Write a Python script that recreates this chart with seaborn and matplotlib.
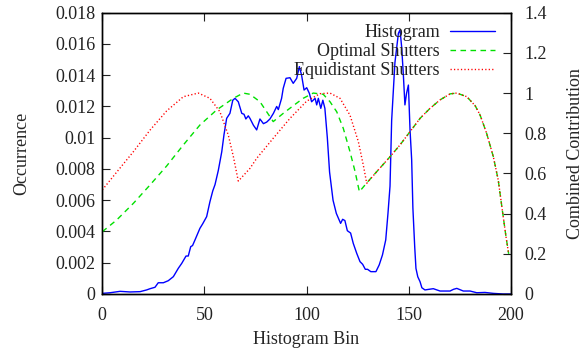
import matplotlib
matplotlib.use("Agg")
import matplotlib.pyplot as plt
import seaborn as sns

# ---- data ----
hist_bin = [0, 3.8, 8.7, 13.6, 18.5, 21.7, 23.4, 25.8, 27.4, 29.9, 32.3, 34.8, 37.2, 38.9,
            41.0, 42.1, 43.3, 44.2, 45.4, 47.8, 49.2, 51.1, 52.7, 54.1, 55.2, 56.8, 58.5,
            59.6, 60.9, 62.5, 63.9, 65.0, 66.6, 68.3, 69.4, 70.3, 71.5, 72.3, 74.0, 75.6,
            77.2, 78.9, 80.5, 82.1, 83.8, 85.4, 86.2, 87.8, 88.6, 90.0, 91.9, 93.5, 95.2,
            96.5, 97.6, 98.8, 100.1, 101.4, 102.5, 104.2, 105.0, 105.8, 107.0, 108.0, 109.0,
            110.2, 111.3, 113.0, 114.6, 116.7, 117.7, 118.8, 120.0, 121.6, 122.9, 124.6,
            126.2, 127.5, 128.8, 129.9, 131.5, 134.0, 135.6, 137.2, 138.8, 139.9, 140.9,
            141.7, 143.3, 145.0, 145.8, 146.6, 147.4, 148.2, 149.0, 149.9, 150.7, 151.5,
            152.1, 153.0, 153.6, 154.5, 155.6, 156.5, 158.0, 160.0, 162.1, 165.4, 170.3,
            172.0, 173.6, 176.8, 180.1, 183.4, 187.4, 191.5, 196.4, 200.0]
hist_occ = [0.00004, 0.00008, 0.00017, 0.00013, 0.00015, 0.00026, 0.00034, 0.00043, 0.00072,
            0.00072, 0.00085, 0.00111, 0.00164, 0.00196, 0.00243, 0.00243, 0.00303, 0.0031,
            0.00346, 0.0042, 0.0045, 0.00495, 0.0059, 0.0066, 0.0070, 0.0079, 0.0091, 0.0102,
            0.01124, 0.01156, 0.0124, 0.01252, 0.0123, 0.01156, 0.0115, 0.0112, 0.0114,
            0.01124, 0.0108, 0.0105, 0.0112, 0.0109, 0.0110, 0.0112, 0.01156, 0.0120, 0.0118,
            0.01252, 0.01316, 0.0138, 0.01384, 0.01348, 0.0138, 0.01455, 0.0140, 0.01305,
            0.0132, 0.01284, 0.0123, 0.01252, 0.0121, 0.01252, 0.01188, 0.0124, 0.01188,
            0.0100, 0.0078, 0.0060, 0.00516, 0.00452, 0.00478, 0.0047, 0.00405, 0.0039,
            0.00324, 0.0026, 0.00207, 0.0019, 0.00158, 0.00158, 0.00143, 0.00143, 0.00186,
            0.0025, 0.00346, 0.00516, 0.0069, 0.0111, 0.0148, 0.01668, 0.0169, 0.0158, 0.0141,
            0.0121, 0.01284, 0.01337, 0.0105, 0.0086, 0.0055, 0.0030, 0.00164, 0.0011, 0.00079,
            0.0004, 0.00026, 0.0003, 0.00034, 0.00019, 0.00019, 0.0003, 0.00036, 0.00019,
            0.00019, 0.00008, 0.0001, 0.00004, 0.0, 0.0]

opt_bin = [0, 7.0, 15.2, 23.4, 31.5, 39.7, 47.8, 56.0, 64.2, 69.0, 72.3, 77.2, 80.5, 83.7,
           88.6, 93.5, 98.4, 103.3, 108.2, 111.5, 114.8, 118.0, 121.3, 123.8, 125.9, 129.5,
           134.4, 140.9, 145.8, 150.7, 155.6, 160.5, 165.4, 170.3, 173.6, 178.5, 182.6,
           185.0, 188.2, 191.5, 193.9, 196.1, 197.7, 199.0]
opt_val = [0.31, 0.368, 0.451, 0.543, 0.637, 0.742, 0.841, 0.916, 0.974, 1.0, 0.994, 0.957,
           0.907, 0.858, 0.899, 0.937, 0.974, 1.0, 0.994, 0.957, 0.907, 0.825, 0.708, 0.609,
           0.509, 0.553, 0.609, 0.683, 0.742, 0.808, 0.874, 0.924, 0.966, 0.996, 1.0, 0.982,
           0.937, 0.891, 0.80, 0.683, 0.567, 0.402, 0.285, 0.20]

equi_bin = [0, 7.0, 15.2, 23.4, 31.5, 39.7, 47.0, 52.7, 57.6, 61.7, 64.2, 66.6, 72.3, 75.6,
            83.7, 91.9, 100.1, 106.6, 111.5, 116.4, 121.3, 125.4, 127.8, 129.5, 134.4, 140.9,
            145.8, 150.7, 155.6, 160.5, 165.4, 170.3, 173.6, 178.5, 182.6, 185.0, 188.2,
            191.5, 193.9, 196.1, 197.7, 199.0]
equi_val = [0.518, 0.606, 0.708, 0.816, 0.911, 0.982, 1.0, 0.974, 0.907, 0.791, 0.683, 0.562,
            0.625, 0.675, 0.775, 0.874, 0.96, 0.997, 1.0, 0.974, 0.89, 0.758, 0.642, 0.551,
            0.609, 0.683, 0.742, 0.808, 0.874, 0.924, 0.966, 0.996, 1.0, 0.982, 0.937, 0.891,
            0.80, 0.683, 0.567, 0.402, 0.285, 0.20]

series_labels = ["Histogram", "Optimal Shutters", "Equidistant Shutters"]
x_ticks = [0, 50, 100, 150, 200]
left_ticks = [0, 0.002, 0.004, 0.006, 0.008, 0.010, 0.012, 0.014, 0.016, 0.018]
left_labels = ["0", "0.002", "0.004", "0.006", "0.008", "0.01", "0.012", "0.014", "0.016", "0.018"]
right_ticks = [0, 0.2, 0.4, 0.6, 0.8, 1.0, 1.2, 1.4]
right_labels = ["0", "0.2", "0.4", "0.6", "0.8", "1", "1.2", "1.4"]

# ---- style ----
sns.set_style("white")
plt.rcParams['font.family'] = ['Liberation Serif', 'DejaVu Serif']
plt.rcParams['font.size'] = 13
plt.rcParams['text.color'] = '#222222'

fig = plt.figure(figsize=(5.87, 3.6), dpi=100)
ax = fig.add_axes([102.3 / 587, 1 - 294 / 360, (510.7 - 102.3) / 587, (294 - 12.7) / 360])
ax2 = ax.twinx()

sns.lineplot(x=hist_bin, y=hist_occ, ax=ax, color='#0000ff', lw=1.0,
             sort=False, estimator=None, legend=False)
sns.lineplot(x=opt_bin, y=opt_val, ax=ax2, color='#00e000', lw=1.0,
             sort=False, estimator=None, legend=False)
sns.lineplot(x=equi_bin, y=equi_val, ax=ax2, color='#ff0000', lw=1.0,
             sort=False, estimator=None, legend=False)
ax2.lines[0].set_dashes((4.0, 3.2))
ax2.lines[1].set_dashes((0.9, 1.6))

ax.set_xlim(0, 200)
ax.set_ylim(0, 0.018)
ax2.set_ylim(0, 1.4)

ax.set_xticks(x_ticks)
ax.set_xticklabels([str(t) for t in x_ticks])
ax.set_yticks(left_ticks)
ax.set_yticklabels(left_labels)
ax2.set_yticks(right_ticks)
ax2.set_yticklabels(right_labels)

ax.tick_params(axis='x', direction='in', top=True, bottom=True, length=5.7, width=0.8,
               pad=9.5, labelsize=13, colors='#222222')
ax.tick_params(axis='y', direction='in', left=True, right=False, length=5.7, width=0.8,
               pad=5, labelsize=13, colors='#222222')
ax2.tick_params(axis='y', direction='in', right=True, left=False, length=5.7, width=0.8,
                pad=10, labelsize=13, colors='#222222')

for a in (ax, ax2):
    for s in a.spines.values():
        s.set_color('black')
        s.set_linewidth(1.0)

ax.set_xlabel("Histogram Bin", fontsize=13, labelpad=5)
ax.set_ylabel("Occurrence", fontsize=13, labelpad=18)
ax2.set_ylabel("Combined Contribution", fontsize=13, labelpad=14)

handles = [ax.lines[0], ax2.lines[0], ax2.lines[1]]
ax2.legend(handles, series_labels, loc='upper right', frameon=False, markerfirst=False,
           bbox_to_anchor=(495 / 587, 1 - 24 / 360), bbox_transform=fig.transFigure,
           borderpad=0, borderaxespad=0, handlelength=2.5, handletextpad=0.55,
           labelspacing=0.12, fontsize=13)

fig.savefig("out.png", dpi=100)
